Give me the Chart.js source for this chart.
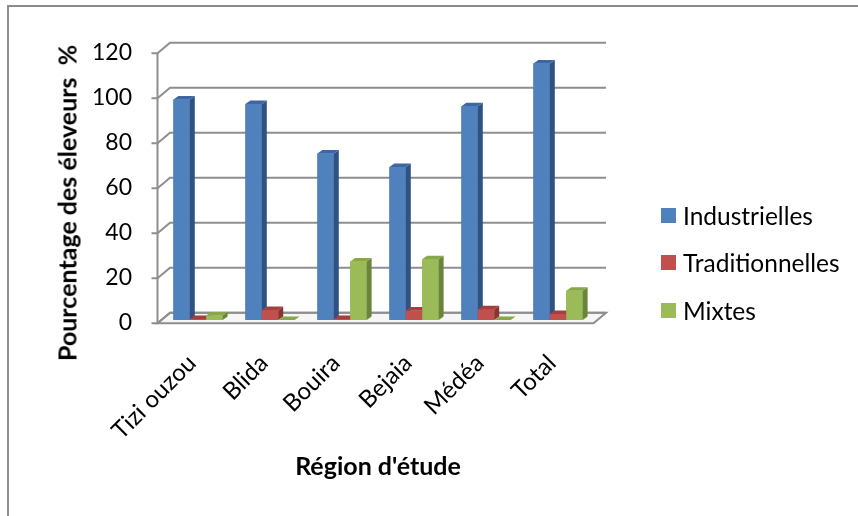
<!DOCTYPE html>
<html><head><meta charset="utf-8">
<script src="https://cdn.jsdelivr.net/npm/chart.js@4"></script>
<style>
html,body{margin:0;padding:0;background:#fff;}
#wrap{position:relative;width:858px;height:516px;overflow:hidden;font-family:Lato,"Open Sans",sans-serif;color:#000;}
#frame{position:absolute;left:7px;top:5px;width:900px;height:600px;border-left:2px solid #8c8c8c;border-top:2px solid #8c8c8c;}
canvas{position:absolute;left:0;top:0;}
#ytitle{position:absolute;left:67px;top:203px;transform:translate(-50%,-50%) rotate(-90deg);white-space:pre;font-weight:bold;font-size:25px;line-height:1;}
.leg{position:absolute;left:661px;height:26px;display:flex;align-items:center;font-size:24.5px;white-space:nowrap;}
.leg span.sw{display:inline-block;width:15px;height:15px;margin-right:7px;}
</style>
</head><body>
<div id="wrap">
<div id="frame"></div>
<canvas id="c" width="858" height="516"></canvas>
<div id="ytitle"></div>
<div id="legend"></div>
</div>
<script>
const categories = ['Tizi ouzou', 'Blida', 'Bouira', 'Bejaia', 'Médéa', 'Total'];
const seriesNames = ['Industrielles', 'Traditionnelles', 'Mixtes'];
const industrielles = [98, 96, 74, 68, 95, 114];
const traditionnelles = [0.5, 4.4, 0.5, 4.2, 4.8, 2.7];
const mixtes = [2, 0, 26, 27, 0, 13];
const yTickValues = [0, 20, 40, 60, 80, 100, 120];
const yTitle = 'Pourcentage des éleveurs  %';
const xTitle = "Région d'étude";

const frontColors = ['#4f81bd', '#c0504d', '#9bbb59'];
const sideColors = ['#2f5283', '#8a3431', '#6a853a'];
const topColors = ['#3d67a3', '#a33f3c', '#87a84a'];

document.getElementById('ytitle').textContent = yTitle;
const legendTops = [202, 249, 297];
const legEl = document.getElementById('legend');
seriesNames.forEach((n, i) => {
  const d = document.createElement('div');
  d.className = 'leg';
  d.style.top = legendTops[i] + 'px';
  d.innerHTML = '<span class="sw" style="background:' + frontColors[i] + '"></span>';
  d.appendChild(document.createTextNode(n));
  legEl.appendChild(d);
});

const DX = 5, DY = 3.5;          // bar depth
const WALL_DX = 12.5;            // wall depth (x)
const FRONT_OFF = 3.3, BACK_OFF = -7.2;

const threeD = {
  id: 'threeD',
  beforeDatasetsDraw(chart) {
    const ctx = chart.ctx, ys = chart.scales.y, a = chart.chartArea;
    const xFront = a.left - 4.5;
    const xBack = xFront + WALL_DX;
    const xEnd = a.right + 12;
    ctx.save();
    const y0 = ys.getPixelForValue(0);
    ctx.beginPath();
    ctx.moveTo(xFront, y0 + FRONT_OFF);
    ctx.lineTo(xEnd - WALL_DX, y0 + FRONT_OFF);
    ctx.lineTo(xEnd, y0 + BACK_OFF);
    ctx.lineTo(xBack, y0 + BACK_OFF);
    ctx.closePath();
    ctx.fillStyle = '#f6f6f6';
    ctx.fill();
    ctx.strokeStyle = '#8e8e8e';
    ctx.lineWidth = 2;
    ctx.stroke();
    ys.ticks.forEach(t => {
      const yb = ys.getPixelForValue(t.value);
      const yf = yb + FRONT_OFF, yk = yb + BACK_OFF;
      ctx.beginPath();
      ctx.moveTo(xFront - 6, yf);
      ctx.lineTo(xFront, yf);
      ctx.lineTo(xBack, yk);
      ctx.lineTo(xEnd, yk);
      ctx.stroke();
    });
    ctx.beginPath();
    ctx.moveTo(xFront, ys.getPixelForValue(ys.max) + FRONT_OFF);
    ctx.lineTo(xFront, y0 + FRONT_OFF);
    ctx.stroke();
    ctx.restore();
  },
  afterDatasetsDraw(chart) {
    const ctx = chart.ctx;
    ctx.save();
    const n = chart.data.labels.length;
    for (let j = 0; j < n; j++) {
      chart.data.datasets.forEach((ds, i) => {
        const el = chart.getDatasetMeta(i).data[j];
        const p = el.getProps(['x', 'y', 'base', 'width'], true);
        const l = p.x - p.width / 2, r = p.x + p.width / 2;
        ctx.fillStyle = frontColors[i];
        ctx.fillRect(l, p.y, p.width, p.base - p.y);
        ctx.beginPath();
        ctx.moveTo(r, p.y); ctx.lineTo(r + DX, p.y - DY);
        ctx.lineTo(r + DX, p.base - DY); ctx.lineTo(r, p.base);
        ctx.closePath();
        ctx.fillStyle = sideColors[i]; ctx.fill();
        ctx.beginPath();
        ctx.moveTo(l, p.y); ctx.lineTo(l + DX, p.y - DY);
        ctx.lineTo(r + DX, p.y - DY); ctx.lineTo(r, p.y);
        ctx.closePath();
        ctx.fillStyle = topColors[i]; ctx.fill();
      });
    }
    ctx.restore();
  }
};

new Chart(document.getElementById('c'), {
  type: 'bar',
  data: {
    labels: categories,
    datasets: [
      { label: seriesNames[0], data: industrielles, backgroundColor: frontColors[0] },
      { label: seriesNames[1], data: traditionnelles, backgroundColor: frontColors[1] },
      { label: seriesNames[2], data: mixtes, backgroundColor: frontColors[2] }
    ]
  },
  options: {
    responsive: false,
    devicePixelRatio: 1,
    animation: false,
    categoryPercentage: 0.684,
    barPercentage: 1.0,
    layout: { padding: { left: 0, right: 264, top: 50, bottom: 0 } },
    plugins: { legend: { display: false }, tooltip: { enabled: false } },
    scales: {
      x: {
        grid: { display: false },
        border: { display: false },
        ticks: {
          autoSkip: false, minRotation: 45, maxRotation: 45,
          color: '#000', padding: 21, labelOffset: -6,
          font: { family: 'Lato', size: 24 }
        },
        title: {
          display: true, text: xTitle, color: '#000',
          font: { family: 'Lato', size: 25, weight: 'bold' },
          padding: { top: 0, bottom: 34 }
        },
        afterFit(s) { s.height = 196; }
      },
      y: {
        min: 0, max: 120,
        afterBuildTicks(s) { s.ticks = yTickValues.map(v => ({ value: v })); },
        grid: { display: false },
        border: { display: false },
        ticks: {
          color: '#000', padding: 22, labelOffset: 3,
          font: { family: 'Lato', size: 23 }
        },
        afterFit(s) { s.width = 162; }
      }
    }
  },
  plugins: [threeD]
});
</script>
</body></html>
